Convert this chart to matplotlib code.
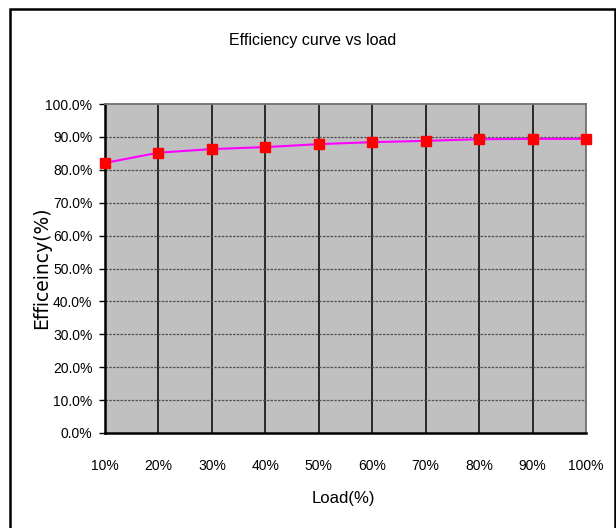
import matplotlib
matplotlib.use("Agg")
import matplotlib.pyplot as plt
from matplotlib.patches import Rectangle
from matplotlib.ticker import PercentFormatter

# data
loads = ["10%", "20%", "30%", "40%", "50%", "60%", "70%", "80%", "90%", "100%"]
efficiency = [82.1, 85.2, 86.3, 86.9, 87.8, 88.4, 88.8, 89.3, 89.4, 89.4]
y_ticks = [0, 10, 20, 30, 40, 50, 60, 70, 80, 90, 100]

NARROW = ["Liberation Sans Narrow", "Liberation Sans", "DejaVu Sans"]
W, H = 616, 528

fig = plt.figure(figsize=(W / 100, H / 100), dpi=100)
fig.patch.set_facecolor("white")

# outer chart border (bottom runs off the picture)
fig.patches.append(Rectangle((10 / W, -0.05), 605 / W, 1 - 9 / H + 0.05,
                             transform=fig.transFigure, fill=False,
                             edgecolor="black", lw=1.8))

ax = fig.add_axes([105 / W, 1 - 433 / H, (586 - 105) / W, (433 - 104) / H])
ax.set_facecolor("#C0C0C0")

x = list(range(len(loads)))
ax.plot(x, efficiency, color="#FF00FF", lw=1.5, zorder=3)
ax.plot(x, efficiency, ls="none", marker="s", ms=7, mfc="#FF0000",
        mec="#FF0000", zorder=4, clip_on=False)

ax.set_xlim(0, len(loads) - 1)
ax.set_ylim(0, 100)
ax.set_xticks(x)
ax.set_xticklabels(loads, fontfamily=NARROW, fontsize=10)
ax.set_yticks(y_ticks)
ax.yaxis.set_major_formatter(PercentFormatter(decimals=1))
for lab in ax.get_yticklabels():
    lab.set_fontfamily(NARROW)
    lab.set_fontsize(10)

ax.tick_params(axis="x", length=0, pad=19)
ax.tick_params(axis="y", length=4, width=1, direction="out", pad=5)

# gridlines
for xi in x[1:-1]:
    ax.axvline(xi, color="black", lw=1.1, zorder=1)
for yv in y_ticks[1:-1]:
    ax.axhline(yv, color="#505050", lw=0.9, ls=(0, (2, 1)), zorder=1)

for side in ["left", "bottom"]:
    ax.spines[side].set_linewidth(1.8)
    ax.spines[side].set_color("black")
for side in ["top", "right"]:
    ax.spines[side].set_linewidth(1.3)
    ax.spines[side].set_color("#707070")

fig.text(313 / W, 1 - 41 / H, "Efficiency curve vs load", ha="center",
         va="center", fontfamily=NARROW, fontsize=11.5)
fig.text(343 / W, 1 - 498 / H, "Load(%)", ha="center", va="center",
         fontfamily=NARROW, fontsize=12)
fig.text(42 / W, 1 - 268 / H, "Efficeincy(%)", ha="center", va="center",
         rotation=90, fontfamily=["DejaVu Sans"], fontsize=13.5)

fig.savefig("out.png", dpi=100, facecolor="white")
